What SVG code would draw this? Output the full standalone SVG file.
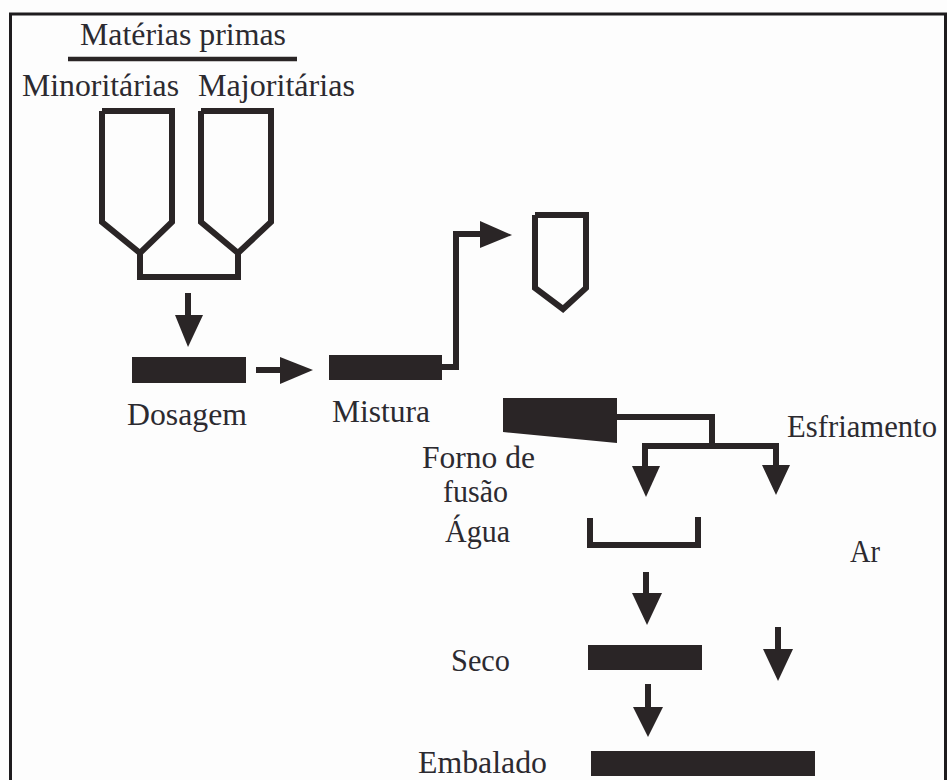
<svg xmlns="http://www.w3.org/2000/svg" width="947" height="780" viewBox="0 0 947 780">
<style>
  .t { font-family: "Liberation Serif", "Times New Roman", "DejaVu Serif", serif; font-size: 31px; fill: #2c2a30; }
  .ln { fill: none; stroke: #2a2526; stroke-width: 6; stroke-linejoin: miter; }
  .bar { fill: #2a2526; }
  .hd { fill: #2a2526; }
</style>
<rect x="0" y="0" width="947" height="780" fill="#fdfdfd"/>
<path d="M10.5,780 V14 H945.5 V780" fill="none" stroke="#1e1c1e" stroke-width="3"/>

<g id="title">
  <text class="t" x="80" y="45" textLength="206" lengthAdjust="spacingAndGlyphs">Matérias primas</text>
  <line x1="68" y1="59" x2="297" y2="59" stroke="#2a2526" stroke-width="4.5"/>
</g>
<g id="minoritarias">
  <text class="t" x="22" y="96" textLength="157" lengthAdjust="spacingAndGlyphs">Minoritárias</text>
  <polyline class="ln" points="102,111 172,111 172,222 140,253 102,222 102,111"/>
</g>
<g id="majoritarias">
  <text class="t" x="198" y="96" textLength="157" lengthAdjust="spacingAndGlyphs">Majoritárias</text>
  <polyline class="ln" points="201,111 271,111 271,222 238,253 201,222 201,111"/>
</g>
<g id="dosagem">
  <rect class="bar" x="132" y="357" width="114" height="26"/>
  <text class="t" x="127" y="425" textLength="120" lengthAdjust="spacingAndGlyphs">Dosagem</text>
</g>
<g id="mistura">
  <rect class="bar" x="329" y="355" width="113" height="25"/>
  <text class="t" x="332" y="422" textLength="98" lengthAdjust="spacingAndGlyphs">Mistura</text>
</g>
<g id="silo">
  <polyline class="ln" points="535,215 586,215 586,288 563,309 535,288 535,215"/>
</g>
<g id="forno">
  <polygon class="bar" points="503,398 617,398 617,443 503,432"/>
  <text class="t" x="422" y="468" textLength="113" lengthAdjust="spacingAndGlyphs">Forno de</text>
  <text class="t" x="443" y="502" textLength="65" lengthAdjust="spacingAndGlyphs">fusão</text>
</g>
<g id="esfriamento">
  <text class="t" x="787" y="437" textLength="150" lengthAdjust="spacingAndGlyphs">Esfriamento</text>
</g>
<g id="agua">
  <polyline class="ln" points="590,518 590,545 698,545 698,517"/>
  <text class="t" x="445" y="542" textLength="65" lengthAdjust="spacingAndGlyphs">Água</text>
</g>
<g id="ar">
  <text class="t" x="850" y="562" textLength="30" lengthAdjust="spacingAndGlyphs">Ar</text>
</g>
<g id="seco">
  <rect class="bar" x="588" y="645" width="114" height="25"/>
  <text class="t" x="451" y="671" textLength="59" lengthAdjust="spacingAndGlyphs">Seco</text>
</g>
<g id="embalado">
  <rect class="bar" x="591" y="751" width="224" height="25"/>
  <text class="t" x="418" y="773" textLength="129" lengthAdjust="spacingAndGlyphs">Embalado</text>
</g>

<g id="connectors">
  <polyline class="ln" points="140,253 140,277 238,277 238,253"/>
  <line class="ln" x1="188" y1="293" x2="188" y2="316"/>
  <polygon class="hd" points="175,315 203,315 188,347"/>
  <line class="ln" x1="256" y1="370" x2="281" y2="370"/>
  <polygon class="hd" points="280,357 280,384 313,370"/>
  <polyline class="ln" points="442,367 456,367 456,234 481,234"/>
  <polygon class="hd" points="480,221 480,248 512,235"/>
  <polyline class="ln" points="617,417 712,417 712,446"/>
  <polyline class="ln" points="645,467 645,446 776,446 776,466"/>
  <polygon class="hd" points="632,466 660,466 646,497"/>
  <polygon class="hd" points="762,465 790,465 776,495"/>
  <line class="ln" x1="646" y1="572" x2="646" y2="594"/>
  <polygon class="hd" points="632,593 662,593 647,625"/>
  <line class="ln" x1="778" y1="627" x2="778" y2="650"/>
  <polygon class="hd" points="763,649 793,649 778,681"/>
  <line class="ln" x1="648" y1="684" x2="648" y2="708"/>
  <polygon class="hd" points="633,707 663,707 648,737"/>
</g>
</svg>
